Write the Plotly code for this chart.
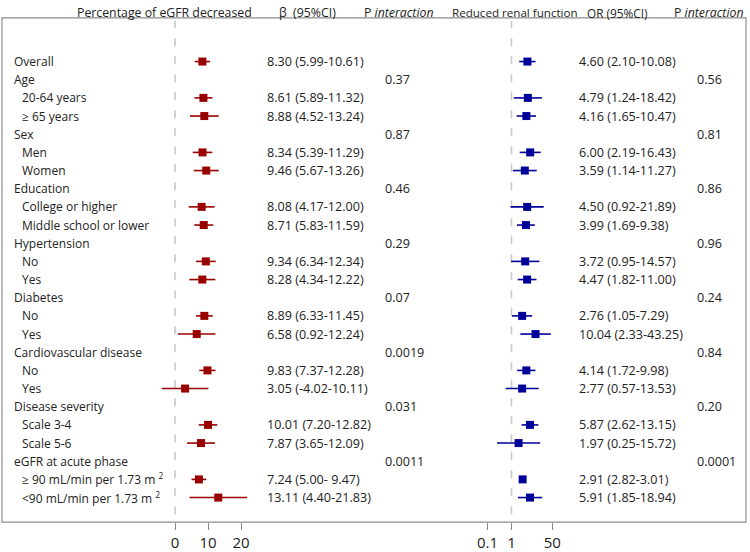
import plotly.graph_objects as go

# ---------------- data ----------------
labels = ["Overall", "Age", "20-64 years", "≥ 65 years", "Sex", "Men", "Women",
          "Education", "College or higher", "Middle school or lower",
          "Hypertension", "No", "Yes", "Diabetes", "No", "Yes",
          "Cardiovascular disease", "No", "Yes", "Disease severity",
          "Scale 3-4", "Scale 5-6", "eGFR at acute phase",
          "≥ 90 mL/min per 1.73 m <sup>2</sup>", "&lt;90 mL/min per 1.73 m <sup>2</sup>"]
is_header = [True, True, False, False, True, False, False, True, False, False,
             True, False, False, True, False, False, True, False, False, True,
             False, False, True, False, False]

beta    = [8.30, None, 8.61, 8.88, None, 8.34, 9.46, None, 8.08, 8.71, None, 9.34, 8.28,
           None, 8.89, 6.58, None, 9.83, 3.05, None, 10.01, 7.87, None, 7.24, 13.11]
beta_lo = [5.99, None, 5.89, 4.52, None, 5.39, 5.67, None, 4.17, 5.83, None, 6.34, 4.34,
           None, 6.33, 0.92, None, 7.37, -4.02, None, 7.20, 3.65, None, 5.00, 4.40]
beta_hi = [10.61, None, 11.32, 13.24, None, 11.29, 13.26, None, 12.00, 11.59, None, 12.34, 12.22,
           None, 11.45, 12.24, None, 12.28, 10.11, None, 12.82, 12.09, None, 9.47, 21.83]
p_beta  = ["", "0.37", "", "", "0.87", "", "", "0.46", "", "", "0.29", "", "",
           "0.07", "", "", "0.0019", "", "", "0.031", "", "", "0.0011", "", ""]

or_val  = [4.60, None, 4.79, 4.16, None, 6.00, 3.59, None, 4.50, 3.99, None, 3.72, 4.47,
           None, 2.76, 10.04, None, 4.14, 2.77, None, 5.87, 1.97, None, 2.91, 5.91]
or_lo   = [2.10, None, 1.24, 1.65, None, 2.19, 1.14, None, 0.92, 1.69, None, 0.95, 1.82,
           None, 1.05, 2.33, None, 1.72, 0.57, None, 2.62, 0.25, None, 2.82, 1.85]
or_hi   = [10.08, None, 18.42, 10.47, None, 16.43, 11.27, None, 21.89, 9.38, None, 14.57, 11.00,
           None, 7.29, 43.25, None, 9.98, 13.53, None, 13.15, 15.72, None, 3.01, 18.94]
p_or    = ["", "0.56", "", "", "0.81", "", "", "0.86", "", "", "0.96", "", "",
           "0.24", "", "", "0.84", "", "", "0.20", "", "", "0.0001", "", ""]

left_ticks = [0, 10, 20]
right_ticks = [0.1, 1, 50]
right_ticktext = ["0.1", "1", "50"]

# ---------------- layout helpers ----------------
W, H = 750, 552
FONT = "Open Sans"
RED = "#990000"
BLUE = "#000099"
TXT = "#222222"

def px(x):
    return x / W

def py(y):
    return 1 - y / H

rows = list(range(len(labels)))
ROW0, ROWH, BOTTOM = 62, 18.3, 526

fig = go.Figure()

# left panel: beta
bi = [i for i in rows if beta[i] is not None]
fig.add_trace(go.Scatter(
    x=[beta[i] for i in bi], y=bi, mode="markers", xaxis="x", yaxis="y",
    marker=dict(symbol="square", size=8, color=RED),
    error_x=dict(type="data", symmetric=False,
                 array=[beta_hi[i] - beta[i] for i in bi],
                 arrayminus=[beta[i] - beta_lo[i] for i in bi],
                 width=0, thickness=1.6, color=RED),
    showlegend=False, hoverinfo="skip"))

# right panel: OR (log)
oi = [i for i in rows if or_val[i] is not None]
fig.add_trace(go.Scatter(
    x=[or_val[i] for i in oi], y=oi, mode="markers", xaxis="x2", yaxis="y",
    marker=dict(symbol="square", size=8, color=BLUE),
    error_x=dict(type="data", symmetric=False,
                 array=[or_hi[i] - or_val[i] for i in oi],
                 arrayminus=[or_val[i] - or_lo[i] for i in oi],
                 width=0, thickness=1.6, color=BLUE),
    showlegend=False, hoverinfo="skip"))

annotations = []
def add_text(x, yrow, text, size=12, color=TXT):
    annotations.append(dict(x=px(x), xref="paper", y=yrow, yref="y", text=text,
                            showarrow=False, xanchor="left", yanchor="middle",
                            font=dict(family=FONT, size=size, color=color)))

NB = "\u00a0"
for i in rows:
    add_text(12 if is_header[i] else 20, i, labels[i])
    if beta[i] is not None:
        hi_s = f"{beta_hi[i]:5.2f}".replace(" ", NB)
        add_text(265, i, f"{beta[i]:.2f} ({beta_lo[i]:.2f}-{hi_s})", size=12.6)
    if or_val[i] is not None:
        add_text(577, i, f"{or_val[i]:.2f} ({or_lo[i]:.2f}-{or_hi[i]:.2f})", size=12.6)
    if p_beta[i]:
        add_text(383, i, p_beta[i], size=12.6)
    if p_or[i]:
        add_text(695, i, p_or[i], size=12.6)

# headers
def add_header(x, text, size=12.3):
    annotations.append(dict(x=px(x), xref="paper", y=py(13), yref="paper", text=text,
                            showarrow=False, xanchor="left", yanchor="middle",
                            font=dict(family=FONT, size=size, color=TXT)))
add_header(75, "Percentage of eGFR decreased")
add_header(277, "β  (95%CI)")
add_header(362, "P" + NB + "<i>interaction</i>")
add_header(450, "Reduced renal function", size=11.6)
add_header(585, "OR (95%CI)", size=11.8)
add_header(672, "P" + NB + "<i>interaction</i>")

shapes = [
    dict(type="rect", xref="paper", yref="paper", x0=px(2), x1=px(746), y0=py(BOTTOM), y1=py(18),
         line=dict(color="#8c8c8c", width=1.2), fillcolor="rgba(0,0,0,0)", layer="below"),
    dict(type="line", xref="x", yref="paper", x0=0, x1=0, y0=py(518), y1=py(21),
         line=dict(color="#c8c8c8", width=1.6, dash="8px,10px"), layer="below"),
    dict(type="line", xref="x2", yref="paper", x0=1, x1=1, y0=py(518), y1=py(21),
         line=dict(color="#c8c8c8", width=1.6, dash="8px,10px"), layer="below"),
]

XL0 = 175.0
XL_SCALE = 3.3
X1_PX = 511.5
DEC = 24.0

fig.update_layout(
    width=W, height=H,
    margin=dict(l=0, r=0, t=0, b=0),
    paper_bgcolor="white", plot_bgcolor="white",
    annotations=annotations, shapes=shapes,
    xaxis=dict(domain=[0, 1], range=[(0 - XL0) / XL_SCALE, (W - XL0) / XL_SCALE],
               tickmode="array", tickvals=left_ticks, ticks="outside", ticklen=7,
               tickcolor="#888888", tickwidth=1.2, showgrid=False, zeroline=False,
               showline=False, tickfont=dict(family=FONT, size=15, color=TXT), anchor="y"),
    xaxis2=dict(type="log", domain=[0, 1], overlaying="x", anchor="y", side="bottom",
                range=[(0 - X1_PX) / DEC, (W - X1_PX) / DEC],
                tickmode="array", tickvals=right_ticks, ticktext=right_ticktext,
                ticks="outside", ticklen=7, tickcolor="#888888", tickwidth=1.2,
                showgrid=False, zeroline=False, showline=False,
                tickfont=dict(family=FONT, size=15, color=TXT)),
    yaxis=dict(domain=[(H - BOTTOM) / H, 1],
               range=[(BOTTOM - ROW0) / ROWH, (0 - ROW0) / ROWH],
               showticklabels=False, showgrid=False, zeroline=False, showline=False,
               ticks=""),
)

fig.write_html("out.html", post_script="document.body.style.margin='0';",
               config={"displayModeBar": False})
